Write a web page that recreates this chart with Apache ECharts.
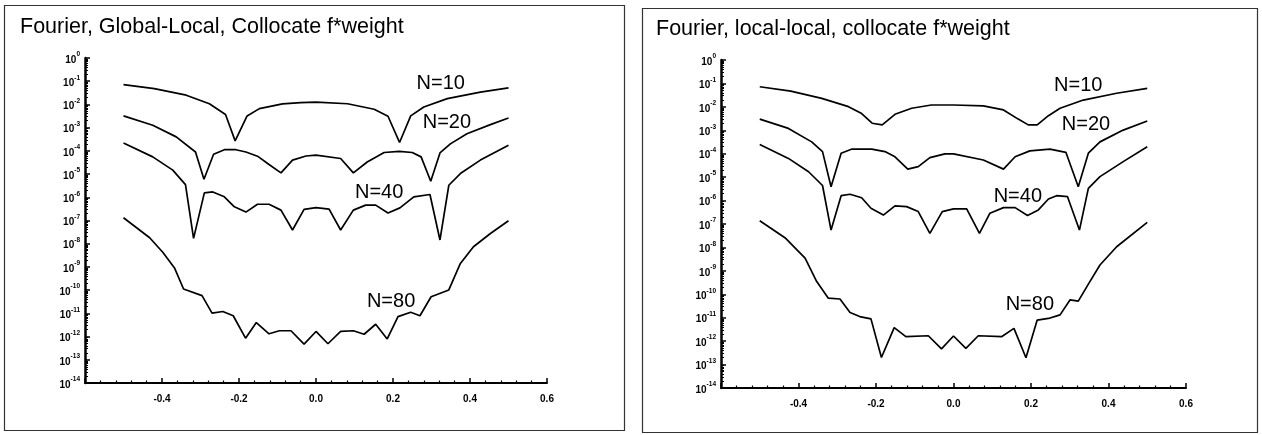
<!DOCTYPE html>
<html><head><meta charset="utf-8">
<script src="https://cdn.jsdelivr.net/npm/echarts@6/dist/echarts.min.js"></script>
<style>html,body{margin:0;padding:0;background:#fff}#c{width:1262px;height:435px}</style>
</head><body><div id="c"></div>
<script>
const titles = ['Fourier, Global-Local, Collocate f*weight', 'Fourier, local-local, collocate f*weight'];
const curveNames = ['N=10', 'N=20', 'N=40', 'N=80'];

// ---- Left panel: Global-Local ----
const gl10x = [-0.5, -0.42, -0.337, -0.277, -0.235, -0.21, -0.179, -0.147, -0.087, -0.04, 0.0, 0.082, 0.151, 0.187, 0.217, 0.246, 0.28, 0.341, 0.427, 0.5];
const gl10y = [7.1e-2, 4.8e-2, 2.5e-2, 1.07e-2, 3.7e-3, 2.7e-4, 3.2e-3, 6.6e-3, 1.05e-2, 1.2e-2, 1.26e-2, 1.07e-2, 6.2e-3, 3.1e-3, 2.3e-4, 3.2e-3, 7.8e-3, 1.78e-2, 3.4e-2, 5.2e-2];

const gl20x = [-0.5, -0.424, -0.363, -0.313, -0.291, -0.266, -0.238, -0.208, -0.182, -0.152, -0.122, -0.091, -0.061, -0.026, 0.0, 0.064, 0.097, 0.133, 0.177, 0.216, 0.25, 0.273, 0.298, 0.322, 0.349, 0.392, 0.453, 0.5];
const gl20y = [3.2e-3, 1.26e-3, 4.0e-4, 8.9e-5, 6.0e-6, 7.1e-5, 1.12e-4, 1.12e-4, 8.9e-5, 5.9e-5, 2.6e-5, 1.12e-5, 4.0e-5, 6.0e-5, 6.5e-5, 4.7e-5, 1.12e-5, 3.3e-5, 8.5e-5, 9.5e-5, 8.5e-5, 5.5e-5, 4.9e-6, 8.1e-5, 2.0e-4, 5.5e-4, 1.35e-3, 2.6e-3];

const gl40x = [-0.5, -0.424, -0.372, -0.339, -0.318, -0.29, -0.268, -0.238, -0.212, -0.182, -0.152, -0.122, -0.091, -0.061, -0.031, 0.0, 0.034, 0.064, 0.097, 0.129, 0.155, 0.187, 0.218, 0.254, 0.296, 0.322, 0.345, 0.375, 0.427, 0.5];
const gl40y = [2.2e-4, 5.5e-5, 1.48e-5, 3.5e-6, 1.7e-8, 1.55e-6, 1.7e-6, 1.05e-6, 3.9e-7, 2.3e-7, 5.0e-7, 5.0e-7, 2.8e-7, 3.9e-8, 3.0e-7, 3.6e-7, 3.1e-7, 3.9e-8, 2.8e-7, 4.6e-7, 4.6e-7, 2.1e-7, 3.5e-7, 1.05e-6, 1.32e-6, 1.45e-8, 3.3e-6, 1.05e-5, 4.0e-5, 1.74e-4];

const gl80x = [-0.5, -0.432, -0.398, -0.367, -0.344, -0.296, -0.27, -0.242, -0.215, -0.183, -0.155, -0.122, -0.095, -0.065, -0.031, 0.0, 0.031, 0.064, 0.097, 0.125, 0.155, 0.185, 0.213, 0.246, 0.27, 0.299, 0.345, 0.375, 0.409, 0.453, 0.5];
const gl80y = [1.32e-7, 1.8e-8, 4.3e-9, 8.7e-10, 1.12e-10, 5.8e-11, 1.02e-11, 1.2e-11, 7.9e-12, 8.5e-13, 4.0e-12, 1.32e-12, 1.78e-12, 1.78e-12, 4.7e-13, 1.66e-12, 4.9e-13, 1.66e-12, 1.78e-12, 1.26e-12, 3.4e-12, 7.9e-13, 7.2e-12, 1.12e-11, 7.9e-12, 5.2e-11, 1.02e-10, 1.41e-9, 7.4e-9, 2.75e-8, 9.8e-8];

const glLabelX = [0.324, 0.34, 0.164, 0.195];
const glLabelY = [7.8e-2, 1.6e-3, 1.55e-6, 3.2e-11];

// ---- Right panel: local-local ----
const ll10x = [-0.5, -0.42, -0.34, -0.271, -0.237, -0.21, -0.184, -0.151, -0.108, -0.057, 0.0, 0.077, 0.129, 0.167, 0.193, 0.216, 0.245, 0.275, 0.335, 0.421, 0.5];
const ll10y = [7.2e-2, 4.7e-2, 2.3e-2, 1.02e-2, 5.2e-3, 2.0e-3, 1.7e-3, 4.8e-3, 8.7e-3, 1.2e-2, 1.2e-2, 1.1e-2, 7.4e-3, 3.0e-3, 1.7e-3, 1.7e-3, 4.2e-3, 8.7e-3, 1.95e-2, 3.8e-2, 6.2e-2];

const ll20x = [-0.5, -0.426, -0.366, -0.338, -0.316, -0.29, -0.262, -0.211, -0.177, -0.151, -0.118, -0.091, -0.061, -0.022, 0.0, 0.077, 0.129, 0.159, 0.197, 0.249, 0.29, 0.322, 0.348, 0.378, 0.438, 0.5];
const ll20y = [3.0e-3, 1.2e-3, 3.2e-4, 1.23e-4, 3.9e-6, 1.05e-4, 1.58e-4, 1.58e-4, 1.23e-4, 7.4e-5, 2.2e-5, 2.8e-5, 6.8e-5, 9.8e-5, 9.8e-5, 5.4e-5, 2.2e-5, 7.4e-5, 1.32e-4, 1.58e-4, 1.15e-4, 3.9e-6, 1.05e-4, 3.2e-4, 1.02e-3, 2.5e-3];

const ll40x = [-0.5, -0.426, -0.374, -0.338, -0.316, -0.29, -0.267, -0.237, -0.213, -0.181, -0.151, -0.121, -0.091, -0.061, -0.029, 0.0, 0.034, 0.067, 0.094, 0.129, 0.159, 0.191, 0.219, 0.245, 0.266, 0.294, 0.325, 0.348, 0.378, 0.438, 0.5];
const ll40y = [2.5e-4, 6.3e-5, 1.7e-5, 4.4e-6, 5.5e-8, 1.62e-6, 1.86e-6, 1.32e-6, 4.7e-7, 2.4e-7, 5.9e-7, 5.5e-7, 3.4e-7, 4.0e-8, 3.4e-7, 4.4e-7, 4.4e-7, 4.0e-8, 2.9e-7, 5.0e-7, 5.0e-7, 2.3e-7, 4.0e-7, 1.17e-6, 1.62e-6, 1.48e-6, 5.5e-8, 3.3e-6, 1.05e-5, 4.6e-5, 2.0e-4];

const ll80x = [-0.5, -0.435, -0.383, -0.353, -0.323, -0.293, -0.267, -0.242, -0.213, -0.186, -0.153, -0.123, -0.065, -0.031, 0.0, 0.032, 0.064, 0.124, 0.156, 0.187, 0.216, 0.245, 0.275, 0.301, 0.322, 0.348, 0.378, 0.421, 0.5];
const ll80y = [1.38e-7, 2.6e-8, 3.5e-9, 3.5e-10, 6.8e-11, 6.3e-11, 1.66e-11, 1.12e-11, 8.9e-12, 2.0e-13, 3.8e-12, 1.55e-12, 1.7e-12, 4.7e-13, 1.66e-12, 4.9e-13, 1.7e-12, 1.55e-12, 3.5e-12, 1.95e-13, 7.9e-12, 9.3e-12, 1.32e-11, 5.8e-11, 5.1e-11, 2.7e-10, 1.78e-9, 1.07e-8, 1.17e-7];

const llLabelX = [0.322, 0.342, 0.166, 0.197];
const llLabelY = [7.9e-2, 1.78e-3, 1.48e-6, 3.5e-11];

// ---- build ----
const FONT = 'Liberation Sans, Arial, Helvetica, sans-serif';
const zip = (xs, ys) => xs.map((x, i) => [x, ys[i]]);

function xAx(i) {
  return {
    type: 'value', gridIndex: i, min: -0.6, max: 0.6, interval: 0.2,
    axisLine: { show: true, onZero: false, lineStyle: { color: '#000', width: 2 } },
    axisTick: { show: true, inside: true, length: 5, lineStyle: { color: '#000', width: 1.5 } },
    minorTick: { show: true, splitNumber: 5, length: 2.5, lineStyle: { color: '#000', width: 1.2 } },
    splitLine: { show: false },
    axisLabel: {
      margin: 11, fontSize: 10, fontWeight: 'bold', color: '#000', fontFamily: FONT,
      formatter: v => (Math.abs(v + 0.6) < 1e-6 ? '' : (Math.abs(v) < 1e-9 ? 0 : v).toFixed(1))
    }
  };
}
function yAx(i) {
  return {
    type: 'log', logBase: 10, gridIndex: i, min: 1e-14, max: 1, interval: 1,
    axisLine: { show: true, onZero: false, lineStyle: { color: '#000', width: 2.5 } },
    axisTick: { show: true, inside: true, length: 5, lineStyle: { color: '#000', width: 1.5 } },
    minorTick: { show: true, splitNumber: 9, length: 3, lineStyle: { color: '#000', width: 1 } },
    splitLine: { show: false },
    axisLabel: {
      margin: 5, fontFamily: FONT, showMinLabel: true, showMaxLabel: true, interval: 0,
      formatter: v => '{a|10}{b|' + Math.round(Math.log10(v)) + '}',
      rich: {
        a: { fontSize: 10, fontWeight: 'bold', color: '#000', fontFamily: FONT, lineHeight: 14, verticalAlign: 'bottom' },
        b: { fontSize: 6.5, fontWeight: 'bold', color: '#000', fontFamily: FONT, lineHeight: 14, verticalAlign: 'top' }
      }
    }
  };
}
function lineSeries(i, xs, ys) {
  return {
    type: 'line', xAxisIndex: i, yAxisIndex: i, data: zip(xs, ys),
    showSymbol: false, symbol: 'none', smooth: false, silent: true,
    lineStyle: { color: '#000', width: 1.7 }
  };
}
function labelSeries(i, xs, ys) {
  return {
    type: 'scatter', xAxisIndex: i, yAxisIndex: i, symbolSize: 1, silent: true,
    itemStyle: { color: '#fff', opacity: 1 },
    data: xs.map((x, k) => [x, ys[k], curveNames[k]]),
    label: {
      show: true, position: 'inside', formatter: p => p.data[2],
      fontSize: 20, color: '#000', opacity: 1, textBorderWidth: 0, fontFamily: FONT
    }
  };
}

const chart = echarts.init(document.getElementById('c'), null, { renderer: 'canvas' });
chart.setOption({
  animation: false,
  backgroundColor: '#fff',
  title: [
    { text: titles[0], left: 15, top: 11, textStyle: { fontSize: 21.5, fontWeight: 'normal', color: '#000', fontFamily: FONT } },
    { text: titles[1], left: 651, top: 13, textStyle: { fontSize: 21.5, fontWeight: 'normal', color: '#000', fontFamily: FONT } }
  ],
  graphic: [
    { type: 'rect', shape: { x: 4.5, y: 5.5, width: 620, height: 425 }, style: { fill: 'none', stroke: '#333', lineWidth: 1.2 } },
    { type: 'rect', shape: { x: 642.5, y: 8.5, width: 615, height: 424 }, style: { fill: 'none', stroke: '#333', lineWidth: 1.2 } }
  ],
  grid: [
    { left: 85, top: 58, width: 462, height: 325 },
    { left: 721, top: 60, width: 465, height: 328 }
  ],
  xAxis: [xAx(0), xAx(1)],
  yAxis: [yAx(0), yAx(1)],
  series: [
    lineSeries(0, gl10x, gl10y), lineSeries(0, gl20x, gl20y), lineSeries(0, gl40x, gl40y), lineSeries(0, gl80x, gl80y),
    lineSeries(1, ll10x, ll10y), lineSeries(1, ll20x, ll20y), lineSeries(1, ll40x, ll40y), lineSeries(1, ll80x, ll80y),
    labelSeries(0, glLabelX, glLabelY), labelSeries(1, llLabelX, llLabelY)
  ]
});
</script>
</body></html>
